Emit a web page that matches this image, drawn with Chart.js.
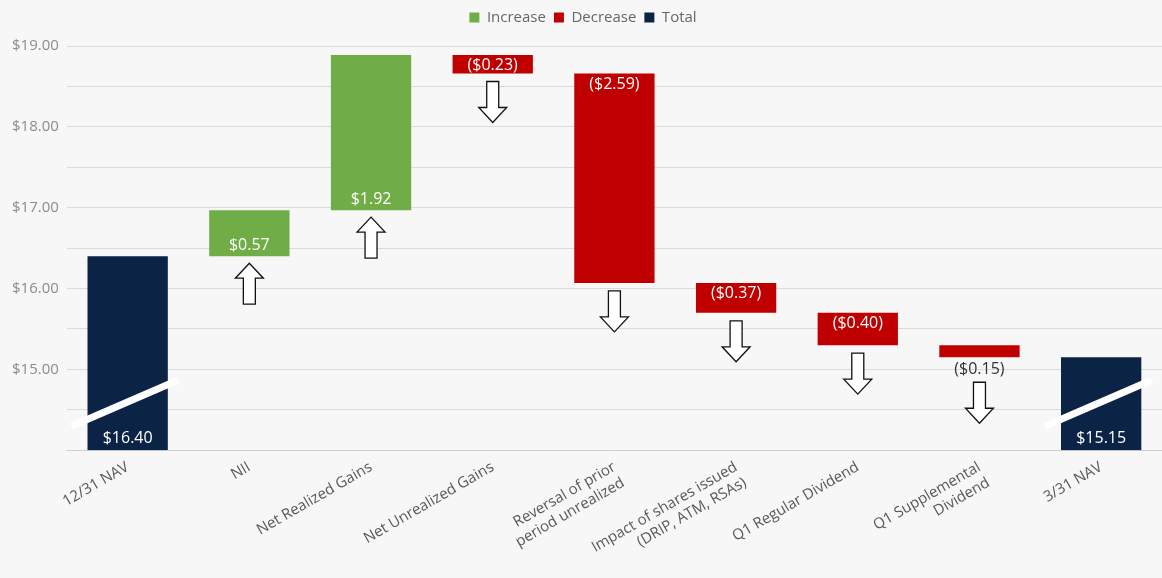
<!DOCTYPE html>
<html>
<head>
<meta charset="utf-8">
<title>NAV Bridge</title>
<script src="https://cdn.jsdelivr.net/npm/chart.js@4.4.0/dist/chart.umd.min.js"></script>
<style>
    html, body { margin: 0; padding: 0; background: #f7f7f7; }
    #wrap { width: 1162px; height: 578px; position: relative; }
</style>
</head>
<body>
<div id="wrap"><canvas id="nav-chart"></canvas></div>
<script>
// Data
const categories = [
    '12/31 NAV',
    'NII',
    'Net Realized Gains',
    'Net Unrealized Gains',
    ['Reversal of prior', 'period unrealized'],
    ['Impact of shares issued', '(DRIP, ATM, RSAs)'],
    'Q1 Regular Dividend',
    ['Q1 Supplemental', 'Dividend'],
    '3/31 NAV'
];
const startNav = 16.40;
const changes = [0.57, 1.92, -0.23, -2.59, -0.37, -0.40, -0.15];
const endNav = 15.15;
const yTicks = { min: 14, max: 19, step: 0.5 };

const GREEN = '#70ad47';
const RED = '#c00000';
const NAVY = '#0b2345';

// build floating ranges [from, to] for each category
const increaseData = [];
const decreaseData = [];
const totalData = [];
const ranges = [];

ranges.push([yTicks.min, startNav]);
let running = startNav;
changes.forEach(c => {
    const next = Math.round((running + c) * 100) / 100;
    ranges.push([running, next]);
    running = next;
});
ranges.push([yTicks.min, endNav]);

ranges.forEach((r, i) => {
    const isTotal = i === 0 || i === ranges.length - 1;
    totalData.push(isTotal ? r : null);
    increaseData.push(!isTotal && r[1] > r[0] ? r : null);
    decreaseData.push(!isTotal && r[1] < r[0] ? r : null);
});

function money(v) {
    const s = '$' + Math.abs(v).toFixed(2);
    return v < 0 ? '(' + s + ')' : s;
}

function drawArrow(ctx, cx, top, up) {
    const h = 41, headH = 15, headW = 28, shaftW = 12;
    ctx.save();
    ctx.beginPath();
    if (up) {
        ctx.moveTo(cx, top);
        ctx.lineTo(cx + headW / 2, top + headH);
        ctx.lineTo(cx + shaftW / 2, top + headH);
        ctx.lineTo(cx + shaftW / 2, top + h);
        ctx.lineTo(cx - shaftW / 2, top + h);
        ctx.lineTo(cx - shaftW / 2, top + headH);
        ctx.lineTo(cx - headW / 2, top + headH);
    } else {
        ctx.moveTo(cx - shaftW / 2, top);
        ctx.lineTo(cx + shaftW / 2, top);
        ctx.lineTo(cx + shaftW / 2, top + h - headH);
        ctx.lineTo(cx + headW / 2, top + h - headH);
        ctx.lineTo(cx, top + h);
        ctx.lineTo(cx - headW / 2, top + h - headH);
        ctx.lineTo(cx - shaftW / 2, top + h - headH);
    }
    ctx.closePath();
    ctx.fillStyle = '#ffffff';
    ctx.fill();
    ctx.lineWidth = 1.3;
    ctx.strokeStyle = '#111111';
    ctx.stroke();
    ctx.restore();
}

// extra room under the legend so the plot starts lower
const legendSpacer = {
    id: 'legendSpacer',
    beforeInit(chart) {
        const origFit = chart.legend.fit;
        chart.legend.fit = function () {
            origFit.call(this);
            this.height += 11;
        };
    }
};

// labels, arrows and axis-break slashes
const decorPlugin = {
    id: 'decor',
    afterDatasetsDraw(chart) {
        const ctx = chart.ctx;
        const yScale = chart.scales.y;
        const xScale = chart.scales.x;
        const barW = chart.getDatasetMeta(0).data[1].width;
        ctx.save();
        ctx.font = '16px "Open Sans", sans-serif';
        ctx.textAlign = 'center';
        ctx.textBaseline = 'middle';

        ranges.forEach((r, i) => {
            const cx = xScale.getPixelForValue(i);
            const pFrom = yScale.getPixelForValue(r[0]);
            const pTo = yScale.getPixelForValue(r[1]);
            const isTotal = i === 0 || i === ranges.length - 1;

            if (isTotal) {
                // axis break slash
                const left = cx - barW / 2, right = cx + barW / 2;
                ctx.save();
                ctx.strokeStyle = '#ffffff';
                ctx.lineWidth = 7;
                ctx.beginPath();
                ctx.moveTo(left - 16, pFrom - 24);
                ctx.lineTo(right + 10, pFrom - 70);
                ctx.stroke();
                ctx.restore();
                ctx.fillStyle = '#ffffff';
                ctx.fillText(money(r[1]), cx, pFrom - 12);
                return;
            }

            const diff = changes[i - 1];
            const height = Math.abs(pTo - pFrom);
            if (diff > 0) {
                ctx.fillStyle = '#ffffff';
                ctx.fillText(money(diff), cx, pFrom - 11);
                drawArrow(ctx, cx, pFrom + 7, true);
            } else if (height < 15) {
                ctx.fillStyle = '#333333';
                ctx.fillText(money(diff), cx, pTo + 12);
                drawArrow(ctx, cx, pTo + 25, false);
            } else {
                ctx.fillStyle = '#ffffff';
                ctx.fillText(money(diff), cx, pFrom + 11);
                drawArrow(ctx, cx, pTo + 8, false);
            }
        });
        ctx.restore();
    }
};

const ctx = document.getElementById('nav-chart').getContext('2d');
new Chart(ctx, {
    type: 'bar',
    data: {
        labels: categories,
        datasets: [
            { label: 'Increase', data: increaseData, backgroundColor: GREEN },
            { label: 'Decrease', data: decreaseData, backgroundColor: RED },
            { label: 'Total', data: totalData, backgroundColor: NAVY }
        ]
    },
    options: {
        responsive: true,
        maintainAspectRatio: false,
        animation: false,
        categoryPercentage: 1,
        barPercentage: 0.66,
        layout: { padding: { left: 4, right: 0, top: 2, bottom: 6 } },
        plugins: {
            legend: {
                position: 'top',
                labels: {
                    boxWidth: 10,
                    boxHeight: 10,
                    color: '#666666',
                    font: { family: '"Open Sans", sans-serif', size: 15 },
                    padding: 8
                }
            },
            tooltip: { enabled: false }
        },
        scales: {
            x: {
                stacked: true,
                grid: { display: false },
                border: { display: true, color: '#cfcfcf' },
                ticks: {
                    color: '#595959',
                    padding: 0,
                    font: { family: '"Open Sans", sans-serif', size: 15, lineHeight: 1.2 },
                    minRotation: 30,
                    maxRotation: 30,
                    autoSkip: false
                }
            },
            y: {
                stacked: false,
                min: yTicks.min,
                max: yTicks.max,
                grid: { color: '#dadada', drawTicks: false },
                border: { display: false },
                ticks: {
                    stepSize: yTicks.step,
                    color: '#8c8c8c',
                    padding: 8,
                    font: { family: '"Open Sans", sans-serif', size: 15 },
                    callback: v => (v % 1 === 0 && v > yTicks.min ? '$' + v.toFixed(2) : '')
                }
            }
        }
    },
    plugins: [legendSpacer, decorPlugin]
});
</script>
</body>
</html>
